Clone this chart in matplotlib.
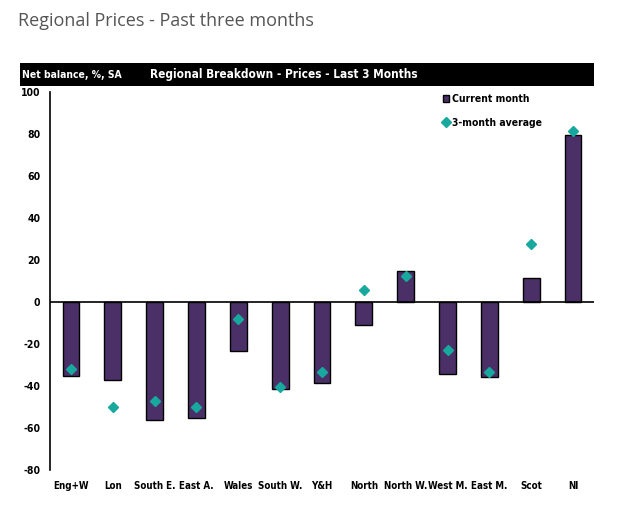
import numpy as np
import matplotlib as mpl
mpl.use('Agg')
import matplotlib.pyplot as plt
from matplotlib.patches import Rectangle

regions = ["Eng+W", "Lon", "South E.", "East A.", "Wales", "South W.", "Y&H",
           "North", "North W.", "West M.", "East M.", "Scot", "NI"]
current = [-35, -37, -56, -55, -23.5, -41.5, -38.5, -11, 15, -34.5, -35.5, 11.5, 79.5]
avg3m = [-32, -50, -47, -50, -8, -40.5, -33.5, 5.5, 12.5, -23, -33.5, 27.5, 81.5]
yticks = [-80, -60, -40, -20, 0, 20, 40, 60, 80, 100]

plt.rcParams['axes.unicode_minus'] = False
cond = dict(family="DejaVu Sans", stretch="condensed", weight="bold")

W, H = 640, 516
fig = plt.figure(figsize=(W/100, H/100), dpi=100)

## page title
fig.text(18/W, 1 - 21/H, "Regional Prices - Past three months", fontsize=13,
         family="Open Sans", color="#555555", va="center", ha="left")

## black header band
fig.patches.append(Rectangle((20/W, 1 - 86/H), (594-20)/W, 23/H, transform=fig.transFigure,
                             facecolor="black", edgecolor="none"))
fig.text(22/W, 1 - 74.5/H, "Net balance, %, SA", color="white", fontsize=7.5,
         va="center", ha="left", **cond)
fig.text(150/W, 1 - 74.5/H, "Regional Breakdown - Prices - Last 3 Months", color="white",
         fontsize=8.5, va="center", ha="left", **cond)

ax = fig.add_axes([50/W, 1 - 470/H, (594-50)/W, (470-92)/H])
x = np.arange(len(regions))
bars = ax.bar(x, current, width=0.4, color="#4B3068", edgecolor="black", linewidth=1.0,
              label="Current month", zorder=2)
dots, = ax.plot(x, avg3m, linestyle="none", marker="D", markersize=5.5, color="#17A89E",
                label="3-month average", zorder=3)
ax.axhline(0, color="black", linewidth=1.2, zorder=4)

ax.set_xlim(-0.5, len(regions) - 0.5)
ax.set_ylim(-80, 100)
ax.set_yticks(yticks)
ax.set_xticks(x)
ax.set_xticklabels(regions)
for s in ["top", "right", "bottom"]:
  ax.spines[s].set_visible(False)
ax.spines["left"].set_linewidth(1.2)
ax.tick_params(axis="both", length=0)
ax.tick_params(axis="y", pad=7)
ax.tick_params(axis="x", pad=8)
for lab in ax.get_xticklabels() + ax.get_yticklabels():
  lab.set_fontweight("bold")
  lab.set_family("DejaVu Sans")
  lab.set_stretch("condensed")
  lab.set_fontsize(7.5)
for lab in ax.get_xticklabels():
  lab.set_fontsize(7)

leg = ax.legend([bars, dots], ["Current month", "3-month average"],
                loc="upper left", bbox_to_anchor=(0.705, 1.02), frameon=False,
                handlelength=0.6, handletextpad=0.3, labelspacing=1.35,
                prop=dict(size=7.5, **cond))

fig.savefig("out.png", dpi=100)
